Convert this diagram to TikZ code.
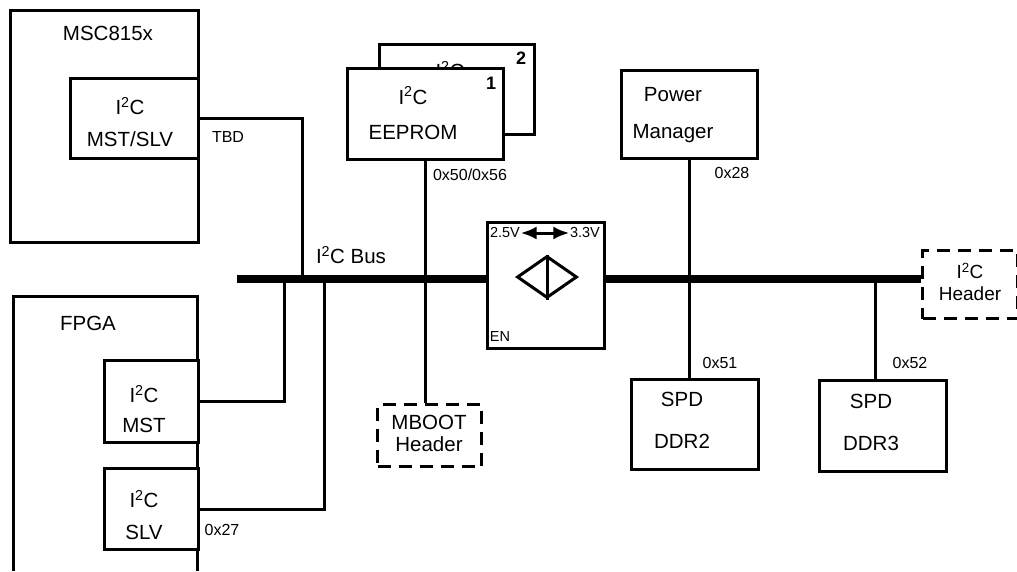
\documentclass[tikz,border=0pt]{standalone}
\usepackage{fontspec}
\setmainfont{Liberation Sans}
\usetikzlibrary{arrows.meta,shapes.geometric}
\newcommand{\iic}{I\textsuperscript{2}C}

\begin{document}
\begin{tikzpicture}[x=1pt,y=-1pt, line join=miter]

\tikzset{
  blk/.style={draw=black, fill=white, line width=3pt, inner sep=0pt, anchor=north west},
  hdr/.style={draw=black, line width=3pt, dash pattern=on 13pt off 8pt, inner sep=0pt, anchor=north west},
  wire/.style={line width=3pt},
  bus/.style={line width=7.5pt},
  txt/.style={font=\fontsize{20.5}{24}\selectfont, align=center, inner sep=1pt},
  hdrtxt/.style={font=\fontsize{19}{22}\selectfont, align=center, inner sep=1pt},
  addr/.style={font=\fontsize{16}{19}\selectfont, inner sep=1pt},
  volt/.style={font=\fontsize{14.5}{17}\selectfont, inner sep=0.5pt},
  num/.style={font=\fontsize{18}{20}\selectfont\bfseries, inner sep=1pt}
}

\useasboundingbox (0,0) rectangle (1017,571);

% MSC815x
\node[blk, minimum width=188pt, minimum height=232pt] (msc) at (9,9) {};
\node[txt] (msctxt) at (108,33) {MSC815x};
\node[blk, minimum width=128pt, minimum height=80pt] (mstslv) at (69,77) {};
\node[txt] (mstslvtxt) at (130,122) {\iic\\[8pt]MST/SLV};
\node[addr] (tbd) at (228,137) {TBD};

% FPGA
\draw[wire] (13,571) |- (197,296) -- (197,571);
\node[txt] (fpgatxt) at (88,323) {FPGA};
\node[blk, minimum width=94pt, minimum height=82pt] (mst) at (103,359) {};
\node[txt] (msttxt) at (144,409) {\iic\\[6pt]MST};
\node[blk, minimum width=94pt, minimum height=81pt] (slv) at (103,467) {};
\node[txt] (slvtxt) at (144,515) {\iic\\[8pt]SLV};
\node[addr] (x27) at (222,530) {0x27};

% EEPROM
\node[blk, minimum width=155pt, minimum height=90pt] (eeprom2) at (378,43) {};
\node[txt] (eeprom2txt) at (450,70) {\iic};
\node[num] (n2) at (521,58) {2};
\node[blk, minimum width=156pt, minimum height=91pt] (eeprom) at (346,67) {};
\node[txt] (eepromtxt) at (413,113) {\iic\\[11pt]EEPROM};
\node[num] (n1) at (491,83) {1};
\node[addr] (x50) at (470,175) {0x50/0x56};

% bus
\coordinate (busL) at (237,279);
\coordinate (busR) at (921,279);
\coordinate (tapmst) at (284,279);
\coordinate (tapmsc) at (302,279);
\coordinate (tapslv) at (324,279);
\coordinate (tapddr3) at (875,279);
\node[txt] (bustxt) at (351,255) {\iic\ Bus};

% level translator
\node[blk, minimum width=117pt, minimum height=126pt] (xlt) at (486,221) {};
\node[volt] (v25) at (505,233) {2.5V};
\node[volt] (v33) at (585,233) {3.3V};
\node[volt] (en) at (500,337) {EN};
\node[diamond, draw, line width=3pt, inner sep=0pt, minimum width=60pt, minimum height=42pt] (dia) at (547,277) {};
\draw[wire] (dia.north) -- (dia.south);
\draw[wire, {Latex[length=16pt,width=13pt]}-{Latex[length=16pt,width=13pt]}] (v25.east) -- (v33.west);

% right side
\node[blk, minimum width=136pt, minimum height=88pt] (pm) at (620,69) {};
\node[txt] (pmtxt) at (673,115) {Power\\[13pt]Manager};
\node[addr] (x28) at (732,173) {0x28};
\node[blk, minimum width=127pt, minimum height=90pt] (ddr2) at (630,378) {};
\node[txt] (ddr2txt) at (682,420) {SPD\\[18pt]DDR2};
\node[addr] (x51) at (720,363) {0x51};
\node[blk, minimum width=127pt, minimum height=91pt] (ddr3) at (818,379) {};
\node[txt] (ddr3txt) at (871,422) {SPD\\[18pt]DDR3};
\node[addr] (x52) at (910,363) {0x52};

% headers
\node[hdr, minimum width=104pt, minimum height=62pt] (mboot) at (376,403) {};
\node[txt] (mboottxt) at (429,433) {MBOOT\\[-2pt]Header};
\node[hdr, minimum width=95pt, minimum height=68pt] (i2chdr) at (921,249) {};
\node[hdrtxt] (i2chdrtxt) at (970,282) {\iic\\Header};

% connections
\draw[bus] (busL) -- (xlt.west |- busL);
\draw[bus] (xlt.east |- busR) -- (busR);
\draw[wire] (mstslv.east) -| (tapmsc);
\draw[wire] (mst.east) -| (tapmst);
\draw[wire] (slv.east) -| (tapslv);
\draw[wire] (eeprom.south) -- (eeprom.south |- mboot.north);
\draw[wire] (pm.south) -- (pm.south |- ddr2.north);
\draw[wire] (tapddr3) -- (tapddr3 |- ddr3.north);

\end{tikzpicture}
\end{document}
